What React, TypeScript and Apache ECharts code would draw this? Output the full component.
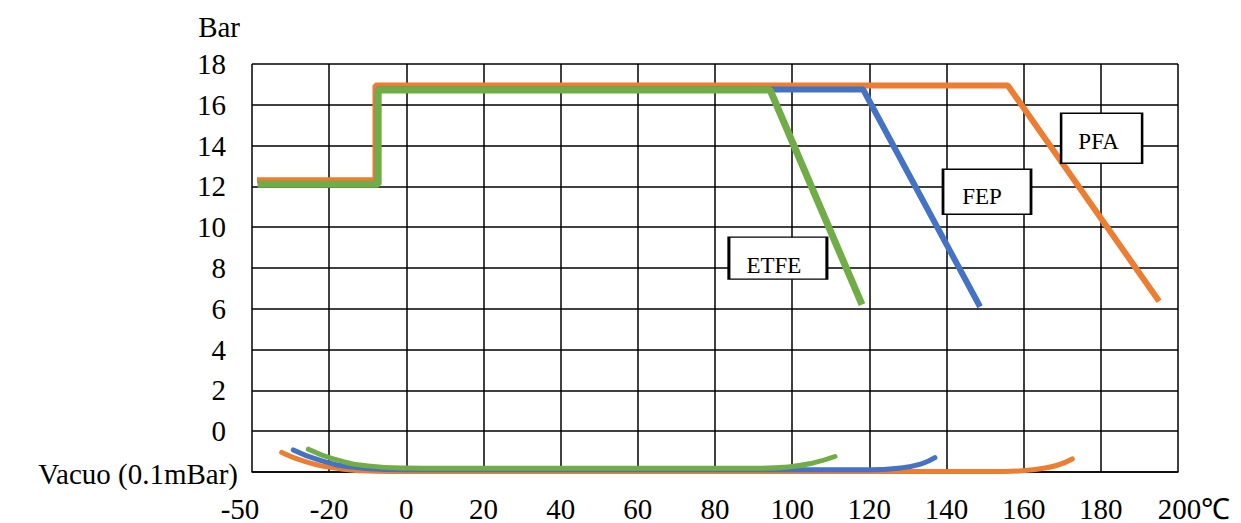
import React, { useEffect, useRef } from 'react';
import * as echarts from 'echarts';

// Tick values (axis scale) and the labels printed on them
const xTickValues = [-40, -20, 0, 20, 40, 60, 80, 100, 120, 140, 160, 180, 200];
const xTickLabels = ['-50', '-20', '0', '20', '40', '60', '80', '100', '120', '140', '160', '180', '200℃'];
const yTickValues = [-2, 0, 2, 4, 6, 8, 10, 12, 14, 16, 18];
const yTickLabels = ['Vacuo (0.1mBar)', '0', '2', '4', '6', '8', '10', '12', '14', '16', '18'];
const yAxisName = 'Bar';

const materials = ['PFA', 'FEP', 'ETFE'];

// Pressure curves [temperature, bar]
const pfaPressure = [[-38.7, 12.3], [-8.0, 12.3], [-8.0, 16.95], [155.9, 16.95], [195.1, 6.37]];
const fepPressure = [[-38.5, 12.1], [-7.4, 12.1], [-7.4, 16.75], [118.4, 16.75], [148.7, 6.1]];
const etfePressure = [[-38.5, 12.1], [-7.3, 12.1], [-7.3, 16.72], [94.3, 16.72], [118.1, 6.2]];

// Vacuum curves [temperature, value]
const pfaVacuum = [[-32.3, -1.04], [-26, -1.5], [-18, -1.82], [-8, -1.96], [0, -1.97], [155, -1.97], [163, -1.88], [168.5, -1.68], [172.6, -1.36]];
const fepVacuum = [[-29.3, -0.92], [-22.5, -1.42], [-14, -1.76], [-4, -1.88], [4, -1.89], [120, -1.89], [128, -1.8], [133.5, -1.6], [137, -1.3]];
const etfeVacuum = [[-25.4, -0.88], [-18.5, -1.38], [-10, -1.7], [0, -1.81], [8, -1.82], [90, -1.82], [99, -1.75], [105.5, -1.55], [111.1, -1.24]];

const colors = { PFA: '#ED7D31', FEP: '#4472C4', ETFE: '#70AD47' };
const FONT = 'Liberation Serif';
const FS = 29;

function boxPoint(name: string, coord: number[], size: number[], offset: number[]) {
  return {
    coord,
    symbol: 'rect',
    symbolSize: size,
    itemStyle: { color: '#fff', borderColor: '#000', borderWidth: 2 },
    label: {
      show: true,
      position: 'inside',
      formatter: name,
      color: '#000',
      fontSize: 23,
      fontFamily: FONT,
      offset,
    },
  };
}

export default function App() {
  const ref = useRef<HTMLDivElement>(null);
  useEffect(() => {
    if (!ref.current) return;
    const chart = echarts.init(ref.current, null, { renderer: 'svg' });
    const mainLine = (name: string, data: number[][], width: number, z: number, mark?: any) => ({
      name,
      type: 'line',
      data,
      showSymbol: false,
      symbol: 'none',
      z,
      lineStyle: { color: (colors as any)[name], width },
      itemStyle: { color: (colors as any)[name] },
      markPoint: mark ? { silent: true, z: 20, data: [mark] } : undefined,
    });
    const vacLine = (name: string, data: number[][], z: number) => ({
      name,
      type: 'line',
      data,
      showSymbol: false,
      symbol: 'none',
      smooth: 0.5,
      z,
      lineStyle: { color: (colors as any)[name], width: 5, cap: 'round' },
    });
    const textStyle = { color: '#000', fontSize: FS, fontFamily: FONT };
    chart.setOption({
      animation: false,
      textStyle: { fontFamily: FONT },
      grid: { left: 252, right: 63, top: 64, bottom: 51, containLabel: false },
      xAxis: {
        type: 'value',
        min: -40,
        max: 200,
        interval: 20,
        axisLine: { show: true, onZero: false, lineStyle: { color: '#000', width: 1.5 } },
        axisTick: { show: false },
        splitLine: { show: true, lineStyle: { color: '#000', width: 1.5 } },
        axisLabel: {
          ...textStyle,
          margin: 22,
          formatter: (v: number) => {
            const i = xTickValues.indexOf(v);
            if (i < 0) return '';
            if (i === 0) return '{l|' + xTickLabels[i] + '}';
            if (i === xTickValues.length - 1) return '{r|' + xTickLabels[i] + '}';
            return '{n|' + xTickLabels[i] + '}';
          },
          rich: {
            n: { ...textStyle },
            l: { ...textStyle, padding: [0, 24, 0, 0] },
            r: { ...textStyle, padding: [0, 0, 0, 32] },
          },
        },
      },
      yAxis: {
        type: 'value',
        min: -2,
        max: 18,
        interval: 2,
        axisLine: { show: false },
        axisTick: { show: false },
        splitLine: { show: true, lineStyle: { color: '#000', width: 1.5 } },
        axisLabel: {
          ...textStyle,
          margin: 26,
          formatter: (v: number) => {
            const i = yTickValues.indexOf(v);
            if (i <= 0) return '';
            return '{n|' + yTickLabels[i] + '}';
          },
          rich: { n: { ...textStyle } },
        },
      },
      graphic: [
        {
          type: 'text',
          x: 238,
          y: 474,
          style: {
            text: yTickLabels[0],
            fill: '#000',
            fontSize: FS,
            fontFamily: FONT,
            align: 'right',
            verticalAlign: 'middle',
          },
        },
        {
          type: 'text',
          x: 240,
          y: 27,
          style: {
            text: yAxisName,
            fill: '#000',
            fontSize: FS,
            fontFamily: FONT,
            align: 'right',
            verticalAlign: 'middle',
          },
        },
      ],
      series: [
        mainLine(materials[0], pfaPressure, 6, 3, boxPoint('PFA', [180.2, 14.36], [81, 50], [-3, 3])),
        vacLine(materials[0], pfaVacuum, 3),
        mainLine(materials[1], fepPressure, 6, 4, boxPoint('FEP', [150.5, 11.74], [88, 45], [-5, 5])),
        vacLine(materials[1], fepVacuum, 4),
        mainLine(materials[2], etfePressure, 7, 5, boxPoint('ETFE', [96.3, 8.48], [98, 42], [-4, 7])),
        vacLine(materials[2], etfeVacuum, 5),
      ],
    });
    return () => chart.dispose();
  }, []);
  return <div ref={ref} style={{ position: 'fixed', left: 0, top: 0, width: 1241, height: 523, background: '#fff' }} />;
}
